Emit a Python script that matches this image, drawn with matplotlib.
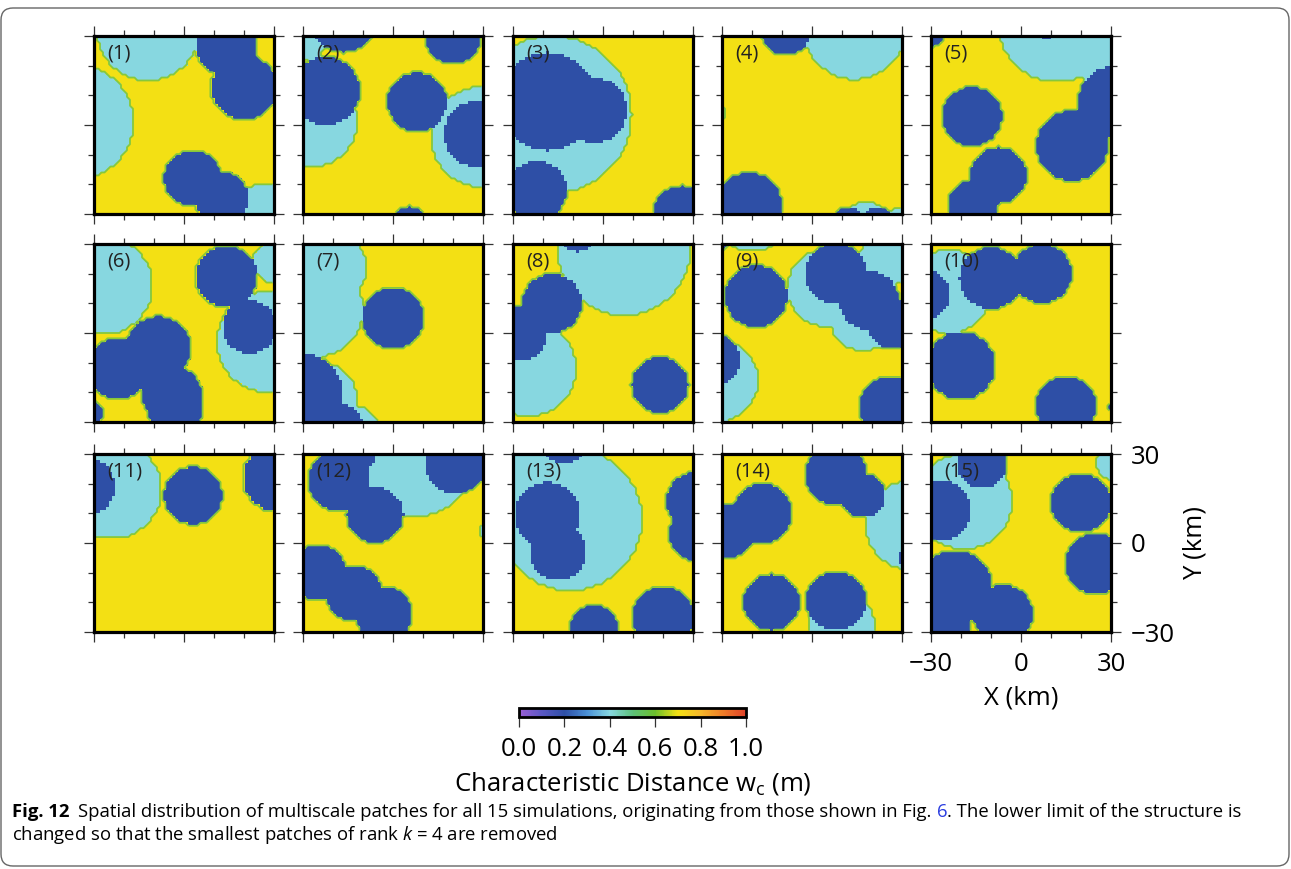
import numpy as np
import matplotlib
matplotlib.use("Agg")
import matplotlib.pyplot as plt
from matplotlib.colors import LinearSegmentedColormap, Normalize
from matplotlib.colorbar import ColorbarBase
from matplotlib.ticker import MultipleLocator
from matplotlib.patches import FancyBboxPatch
from matplotlib.transforms import IdentityTransform

plt.rcParams['font.family'] = ['Open Sans', 'DejaVu Sans']
plt.rcParams['mathtext.fontset'] = 'custom'
plt.rcParams['mathtext.rm'] = 'Open Sans'
plt.rcParams['mathtext.it'] = 'Open Sans:italic'

# characteristic distance of each patch level (m)
w_small = 0.2   # small patches (dark blue)
w_large = 0.4   # large patches (cyan)
w_back = 0.7    # background (yellow)

# patches: (x km, y km, radius km), one list per simulation
large_patches = [
    [(-12, 32, 17), (-36, 1, 19.3), (27, -29, 9.5)],
    [(-28, 27, 5), (-27, 1, 15), (29.6, -4, 17)],
    [(-17, 3.5, 26.5)],
    [(14.3, 32.4, 17), (-32, 4, 3.5), (18, -35, 9), (29, -32, 4)],
    [(12, 34, 19.5), (26, 22, 8)],
    [(-27, 16, 16.5), (28, -3, 17), (30, 24, 7)],
    [(-22, 22, 13), (-26, 8, 16), (-24, -22, 12), (-12, -32, 7)],
    [(7, 28, 22), (-25, -12, 16)],
    [(-20, 40, 12.5), (4.8, 15.2, 13), (17, 5, 11), (25, 25, 9), (-32, -16, 14)],
    [(-24, 14, 14)],
    [(-24, 18, 16.5)],
    [(8, 28, 19), (32, 4, 3.5)],
    [(-11, 8, 24), (-26, 28, 6)],
    [(33, 6, 15), (10, -28, 11)],
    [(-19, 14, 16), (31, 27, 6)],
]
small_patches = [
    [(14, 27, 10.5), (20, 12.6, 11), (2.8, -18, 9.5), (12.2, -24.7, 9)],
    [(-16.5, 36.5, 12), (-22.5, 11.5, 11.5), (8, 7.8, 10), (20, 30, 9.5),
     (28, -3, 11), (5.5, -32.5, 5)],
    [(-18.5, 8, 16.5), (-3, 5, 11), (-22, -22, 10), (26.5, -30.5, 10)],
    [(-8.7, 31.8, 8.3), (-21, -27, 11), (12, -33.5, 6), (22, -33.5, 6)],
    [(-31, 32, 6), (8.5, 31.5, 2.5), (-16.3, 2.8, 10), (-7.5, -17, 9.5),
     (-16, -27, 8.5), (17, -7, 12), (31, 8, 12)],
    [(14, 19, 10.5), (21.5, 2, 9), (-8.5, -5, 10.6), (-22, -12, 10.5),
     (-4, -21, 10), (-3, -26, 9), (-31, -27, 4)],
    [(-30, -20, 13), (-18, -32, 8), (0, 5, 10.3)],
    [(-8.5, 33, 5.5), (-17, 10, 10), (-28, 0, 9.5), (19, -17.5, 9.5)],
    [(-31, 31, 3), (-18.6, 12.4, 10.5), (8, 20, 10.5), (19, 11, 10),
     (27, 3, 8.5), (-33, -9, 9), (26, -25, 10.5)],
    [(-32, 13, 8.5), (-10, 18.5, 10.5), (7, 20, 10), (-20, -11, 11.5),
     (15, -24.5, 10), (31, -25, 2)],
    [(-33, 19, 10), (3, 16, 9.7), (31, 22, 11.5)],
    [(-18, 21, 10.5), (-6, 9.5, 9.5), (-13, 30, 7), (21, 27, 10.5),
     (-25, -10, 9.5), (-13, -17, 9.5), (-3, -24, 9.5)],
    [(-13, 36, 9), (-18.5, 9.6, 11), (-15, -3, 9.5), (31, 14, 10),
     (31, 3, 9), (20, -25, 10.5), (-3, -29, 8)],
    [(8, 23, 10.5), (17, 16, 7.5), (-16.5, 10, 10), (-28, 4, 9),
     (-13.5, -20, 9.5), (8, -19.5, 10), (31, -5, 2.5)],
    [(-13, 27, 8.5), (-27, 11, 10.5), (-22, -15, 12.5), (-6, -24, 10),
     (-26, -27, 9), (20, 13.5, 10), (25, -7, 10.5)],
]

cbar_ticks = [0.0, 0.2, 0.4, 0.6, 0.8, 1.0]

cmap = LinearSegmentedColormap.from_list("wc", [
    (0.0, '#9b5fd6'), (0.1, '#5a58c4'), (0.2, '#2e4fa6'), (0.3, '#4a90d6'),
    (0.4, '#87d7e0'), (0.5, '#5cc07a'), (0.6, '#6cbf2c'), (0.7, '#f3e114'),
    (0.8, '#f5b82a'), (0.9, '#ee7c28'), (1.0, '#e0432a')])

W, H = 1291, 869
fig = plt.figure(figsize=(W / 100, H / 100), dpi=100)


def px_axes(x0, y0, w, h):
    return fig.add_axes([x0 / W, 1 - (y0 + h) / H, w / W, h / H])


xc = np.arange(-29.5, 30, 1.0)
XX, YY = np.meshgrid(xc, xc)

col_x = [94, 303, 513, 722, 931]
row_y = [36, 244, 454]

for i in range(15):
    ax = px_axes(col_x[i % 5], row_y[i // 5], 180, 178)
    Z = np.full(XX.shape, w_back)
    for cx, cy, r in large_patches[i]:
        Z[(XX - cx) ** 2 + (YY - cy) ** 2 <= r ** 2] = w_large
    for cx, cy, r in small_patches[i]:
        Z[(XX - cx) ** 2 + (YY - cy) ** 2 <= r ** 2] = w_small
    ax.imshow(Z, origin='lower', extent=(-30, 30, -30, 30), cmap=cmap,
              vmin=0, vmax=1, interpolation='nearest', aspect='auto')
    ax.contour(xc, xc, Z, levels=[0.55], colors='#86c83c', linewidths=1.3)
    ax.set_xlim(-30, 30)
    ax.set_ylim(-30, 30)
    ax.set_xticks([-30, 0, 30])
    ax.set_yticks([-30, 0, 30])
    ax.xaxis.set_minor_locator(MultipleLocator(10))
    ax.yaxis.set_minor_locator(MultipleLocator(10))
    ax.tick_params(which='both', direction='out', top=True, right=True,
                   labelbottom=False, labelleft=False, color='#333333',
                   width=0.9)
    ax.tick_params(which='major', length=7.5)
    ax.tick_params(which='minor', length=4)
    for s in ax.spines.values():
        s.set_linewidth(2.3)
    ax.text(-25.5, 24, "(%d)" % (i + 1), fontsize=14.5, va='center',
            ha='left', color='#222222')
    if i == 14:
        ax.tick_params(which='major', labelbottom=True, labelright=True,
                       labelsize=18.5, pad=7)
        ax.set_xticklabels(['\u221230', '0', '30'])
        ax.set_yticklabels(['\u221230', '0', '30'])
        ax.set_xlabel("X (km)", fontsize=18.5, labelpad=6)
        ax.yaxis.set_label_position('right')
        ax.set_ylabel("Y (km)", fontsize=18.5, labelpad=5)

# colour scale
cax = px_axes(519, 708, 227, 9)
cb = ColorbarBase(cax, cmap=cmap, norm=Normalize(0, 1), orientation='horizontal',
                  ticks=cbar_ticks)
cb.outline.set_linewidth(2)
cax.tick_params(direction='out', length=7.5, width=0.9, labelsize=18.5, pad=7,
                color='#333333')
cax.set_xticklabels(['%.1f' % t for t in cbar_ticks])
cax.set_xlabel(r"Characteristic Distance w$_\mathrm{c}$ (m)", fontsize=18.5,
               labelpad=6)

# caption
fig.canvas.draw()
rend = fig.canvas.get_renderer()
fs = 13.3
y1 = 1 - 817 / H
y2 = 1 - 840 / H
t = fig.text(12 / W, y1, "Fig. 12", fontsize=fs, weight='bold')
x = t.get_window_extent(rend).x1 + 9
t = fig.text(x / W, y1, "Spatial distribution of multiscale patches for all 15 "
             "simulations, originating from those shown in Fig. ", fontsize=fs)
x = t.get_window_extent(rend).x1
t = fig.text(x / W, y1, "6", fontsize=fs, color='#2b3ee0')
x = t.get_window_extent(rend).x1
fig.text(x / W, y1, ". The lower limit of the structure is", fontsize=fs)
fig.text(12 / W, y2, r"changed so that the smallest patches of rank $k$ = 4 are removed",
         fontsize=fs)

# outer frame
fig.patches.append(FancyBboxPatch((1, 3), 1288, 858,
                                  boxstyle='round,pad=0,rounding_size=12',
                                  transform=IdentityTransform(),
                                  facecolor='none', edgecolor='#666666', lw=1))

fig.savefig("out.png", dpi=100)
